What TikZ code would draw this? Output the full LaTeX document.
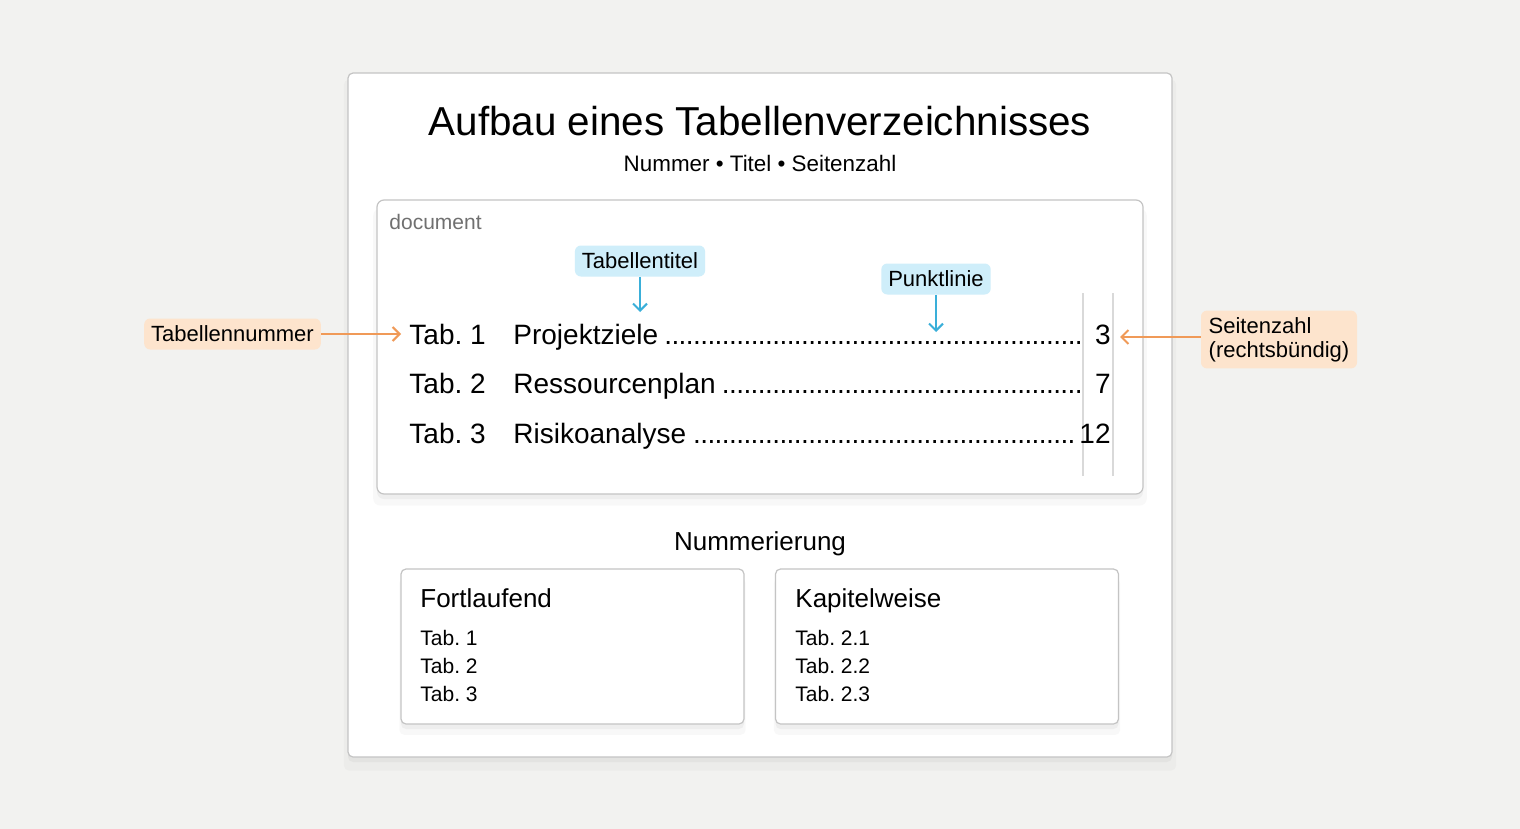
\documentclass[tikz,border=0pt]{standalone}
\usepackage{fontspec}
\setmainfont{Liberation Sans}
\usetikzlibrary{arrows.meta,shadows}

\definecolor{bgcol}{HTML}{F2F2F0}
\definecolor{framecol}{HTML}{C4C4C4}
\definecolor{tagbluefill}{HTML}{CFEEFA}
\definecolor{arrblue}{HTML}{3AAFD9}
\definecolor{tagorangefill}{HTML}{FDE4CD}
\definecolor{arrorange}{HTML}{F09A58}
\definecolor{rulecol}{HTML}{D9D9D9}
\definecolor{labelgray}{HTML}{707070}

\newcommand\dotlead{\leaders\hbox to 3.6pt{\hss.\hss}\hfill}
\frenchspacing

\tikzset{
  card/.style={draw=framecol, fill=white, rounded corners=2.5pt, line width=0.6pt,
    drop shadow={opacity=0.05, shadow xshift=0pt, shadow yshift=-5pt, shadow scale=1.01},
    drop shadow={opacity=0.08, shadow xshift=0pt, shadow yshift=-2.5pt}},
  bluetag/.style={fill=tagbluefill, rounded corners=3pt, inner xsep=3.5pt,
    minimum height=15.5pt, font=\fontsize{11}{13}\selectfont},
  orangetag/.style={fill=tagorangefill, rounded corners=3pt, inner xsep=3.5pt,
    minimum height=15.5pt, font=\fontsize{11}{13}\selectfont},
  bluearr/.style={draw=arrblue, line width=1pt, -{Straight Barb[length=3.5pt,width=7pt]}},
  orangearr/.style={draw=arrorange, line width=1pt, -{Straight Barb[length=3.5pt,width=7pt]}},
  rowtext/.style={inner sep=0pt, font=\fontsize{14}{16}\selectfont},
  smalltext/.style={inner sep=0pt, font=\fontsize{10.5}{12}\selectfont}
}

\begin{document}
\begin{tikzpicture}[x=0.5pt, y=-0.5pt]
  % background
  \fill[bgcol] (0,0) rectangle (1520,829);

  % outer card
  \node[card, minimum width=412pt, minimum height=342pt] (page) at (760,415) {};
  \node[anchor=base, inner sep=0pt, font=\fontsize{20.2}{23}\selectfont] (title) at (760,135) {Aufbau eines Tabellenverzeichnisses};
  \node[anchor=base, inner sep=0pt, font=\fontsize{11.2}{13}\selectfont] (sub) at (760,171) {Nummer • Titel • Seitenzahl};

  % document box
  \node[card, rounded corners=3.5pt, minimum width=383pt, minimum height=147pt] (doc) at (760,347) {};
  \node[anchor=base west, smalltext, text=labelgray] (doclbl) at (389,229) {document};

  % rows
  \draw[rulecol, line width=0.7pt] (1083,293) -- (1083,476);
  \draw[rulecol, line width=0.7pt] (1113,293) -- (1113,476);
  \foreach \rownum/\rowy/\rowtitle/\rowpage/\rowend in
      {1/344/Projektziele/3/1082, 2/393/Ressourcenplan/7/1082, 3/443/Risikoanalyse/12/1075}{
    \node[rowtext, anchor=base west] (tab\rownum) at (409,\rowy) {Tab. \rownum};
    \pgfmathsetmacro\roww{(\rowend-513)/2}
    \node[rowtext, anchor=base west] (tit\rownum) at (513,\rowy) {\makebox[\roww pt][l]{\rowtitle\hspace{1.5pt}\dotlead}};
    \node[rowtext, anchor=base east] (pg\rownum) at (1111,\rowy) {\rowpage};
  }

  % annotations
  \node[bluetag] (ttltag) at (640,261) {Tabellentitel};
  \coordinate (ttltip) at (640,312);
  \draw[bluearr] (ttltag.south) -- (ttltip);

  \node[bluetag] (dottag) at (936,279) {Punktlinie};
  \coordinate (dottip) at (936,332);
  \draw[bluearr] (dottag.south) -- (dottip);

  \node[orangetag] (numtag) at (232.5,334) {Tabellennummer};
  \coordinate (numtip) at (401,334);
  \draw[orangearr] (numtag.east) -- (numtip);

  \node[orangetag, align=left, minimum width=78pt, minimum height=28pt,
        font=\fontsize{11}{12}\selectfont] (pgtag) at (1279,339.5) {Seitenzahl\\(rechtsbündig)};
  \coordinate (pgtip) at (1120,337);
  \draw[orangearr] (pgtag.west |- pgtip) -- (pgtip);

  % numbering
  \node[anchor=base, inner sep=0pt, font=\fontsize{13}{15}\selectfont] (numhead) at (760,550) {Nummerierung};

  \node[card, minimum width=171.5pt, minimum height=77.5pt] (fort) at (572.5,646.5) {};
  \node[card, minimum width=171.5pt, minimum height=77.5pt] (kap) at (947,646.5) {};
  \node[anchor=base west, inner sep=0pt, font=\fontsize{13}{15}\selectfont] (forthead) at (420,607) {Fortlaufend};
  \node[anchor=base west, inner sep=0pt, font=\fontsize{13}{15}\selectfont] (kaphead) at (795,607) {Kapitelweise};
  \foreach \i/\y in {1/645, 2/673, 3/701}{
    \node[anchor=base west, smalltext] (fort\i) at (420,\y) {Tab. \i};
    \node[anchor=base west, smalltext] (kap\i) at (795,\y) {Tab. 2.\i};
  }
\end{tikzpicture}
\end{document}
